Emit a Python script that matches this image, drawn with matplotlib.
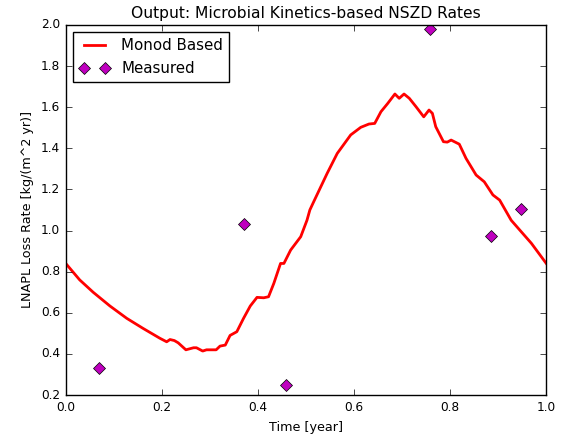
import matplotlib
matplotlib.use("Agg")
import matplotlib.pyplot as plt

# --- DATA ---
# Monod-based NSZD rate curve
time_model = [0.0, 0.029, 0.057, 0.092, 0.127, 0.161, 0.196, 0.21, 0.217, 0.226,
              0.234, 0.25, 0.266, 0.272, 0.285, 0.293, 0.313, 0.321, 0.332, 0.342,
              0.356, 0.370, 0.384, 0.398, 0.412, 0.422, 0.433, 0.447, 0.454, 0.468,
              0.489, 0.502, 0.508, 0.516, 0.544, 0.565, 0.593, 0.614, 0.631, 0.643,
              0.656, 0.670, 0.685, 0.694, 0.704, 0.715, 0.729, 0.745, 0.756, 0.763,
              0.770, 0.786, 0.794, 0.802, 0.819, 0.833, 0.854, 0.871, 0.889, 0.903,
              0.927, 0.969, 1.0]
rate_model = [0.84, 0.76, 0.70, 0.633, 0.573, 0.524, 0.476, 0.459, 0.47, 0.465,
              0.454, 0.42, 0.43, 0.43, 0.414, 0.42, 0.42, 0.438, 0.443, 0.49,
              0.508, 0.573, 0.633, 0.675, 0.673, 0.678, 0.743, 0.84, 0.84, 0.905,
              0.97, 1.05, 1.10, 1.14, 1.278, 1.375, 1.465, 1.502, 1.518, 1.521,
              1.578, 1.618, 1.664, 1.643, 1.664, 1.643, 1.602, 1.553, 1.586, 1.57,
              1.505, 1.432, 1.43, 1.44, 1.42, 1.351, 1.27, 1.237, 1.173, 1.148,
              1.05, 0.938, 0.84]

# measured NSZD rates
time_meas = [0.069, 0.370, 0.459, 0.758, 0.886, 0.948]
rate_meas = [0.333, 1.033, 0.25, 1.98, 0.973, 1.105]

plt.style.use('classic')

fig = plt.figure(figsize=(5.62, 4.37), dpi=100, facecolor='white')
ax = fig.add_axes([0.117, 0.096, 0.855, 0.847])

ax.plot(time_model, rate_model, color='red', lw=2, label='Monod Based')
ax.plot(time_meas, rate_meas, 'mD', markersize=6, label='Measured')

ax.set_xlim(0, 1)
ax.set_ylim(0.2, 2.0)
ax.set_xlabel('Time [year]', fontsize=9.2)
ax.set_ylabel('LNAPL Loss Rate [kg/(m^2 yr)]', fontsize=9.2)
ax.set_title('Output: Microbial Kinetics-based NSZD Rates', fontsize=11.2)
ax.tick_params(labelsize=8.7)
ax.legend(loc='upper left', fontsize=10.8, numpoints=2)

fig.savefig('out.png', dpi=100, facecolor='white')
